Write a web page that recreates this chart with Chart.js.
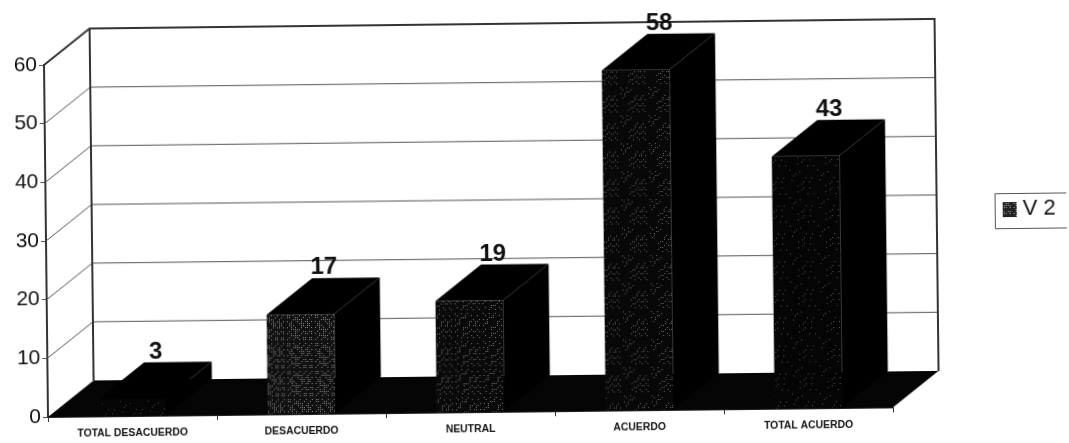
<!DOCTYPE html>
<html>
<head>
<meta charset="utf-8">
<title>V 2</title>
<script src="https://cdn.jsdelivr.net/npm/chart.js@4/dist/chart.umd.min.js"></script>
<style>
    html, body { margin: 0; background: #fff; overflow: hidden; }
    /* the original is a scan, slightly turned */
    #chart { display: block; transform-origin: 48px 417px; transform: rotate(-0.65deg); }
</style>
</head>
<body>
<canvas id="chart" width="1069" height="443"></canvas>
<script>
const categories = ['TOTAL DESACUERDO', 'DESACUERDO', 'NEUTRAL', 'ACUERDO', 'TOTAL ACUERDO'];
const values = [3, 17, 19, 58, 43];
const yTicks = [0, 10, 20, 30, 40, 50, 60];
const seriesName = 'V 2';

// Depth of the fake 3D box
const depthX = 46;
const depthY = 36;
const FONT = '"Liberation Sans", Arial, sans-serif';

// Dark dither like the photocopied bars, uneven on purpose
function stipple(base, dot, density) {
    const c = document.createElement('canvas');
    c.width = 28;
    c.height = 28;
    const g = c.getContext('2d');
    g.fillStyle = base;
    g.fillRect(0, 0, 28, 28);
    g.fillStyle = dot;
    for (let y = 0; y < 28; y += 2) {
        for (let x = 0; x < 28; x += 2) {
            if ((x * 3 + y * 5 + x * y) % 11 < density) g.fillRect(x, y, 1, 1);
        }
    }
    return g.createPattern(c, 'repeat');
}

const barFills = [
    stipple('#050505', '#444', 1),
    stipple('#111', '#8a8a8a', 5),
    stipple('#0a0a0a', '#777', 3),
    stipple('#080808', '#666', 2),
    stipple('#050505', '#555', 1)
];
const legendFill = stipple('#222', '#aaa', 6);

function poly(ctx, pts, fill) {
    ctx.beginPath();
    pts.forEach((p, i) => i ? ctx.lineTo(p[0], p[1]) : ctx.moveTo(p[0], p[1]));
    ctx.closePath();
    ctx.fillStyle = fill;
    ctx.fill();
}

const box3d = {
    id: 'box3d',
    beforeDatasetsDraw(chart) {
        const { ctx, chartArea: a, scales: { y } } = chart;
        ctx.save();

        // Gridlines on left and back walls
        ctx.strokeStyle = '#555';
        ctx.lineWidth = 1;
        yTicks.forEach(v => {
            if (v === 0 || v === 60) return;
            const py = y.getPixelForValue(v);
            ctx.beginPath();
            ctx.moveTo(a.left, py);
            ctx.lineTo(a.left + depthX, py - depthY);
            ctx.lineTo(a.right + depthX, py - depthY);
            ctx.stroke();
        });

        // Wall outline
        const top = y.getPixelForValue(60);
        const zero = y.getPixelForValue(0);
        ctx.strokeStyle = '#333';
        ctx.lineWidth = 2;
        ctx.beginPath();
        ctx.moveTo(a.left, top);
        ctx.lineTo(a.left + depthX, top - depthY);
        ctx.lineTo(a.right + depthX, top - depthY);
        ctx.lineTo(a.right + depthX, zero - depthY);
        ctx.moveTo(a.left + depthX, top - depthY);
        ctx.lineTo(a.left + depthX, zero - depthY);
        ctx.stroke();

        // Floor
        poly(ctx, [
            [a.left, zero], [a.right, zero],
            [a.right + depthX, zero - depthY], [a.left + depthX, zero - depthY]
        ], '#050505');
        ctx.restore();
    },
    afterDatasetsDraw(chart) {
        const { ctx } = chart;
        const bars = chart.getDatasetMeta(0).data;
        ctx.save();
        bars.forEach((bar, i) => {
            const l = bar.x - bar.width / 2;
            const r = bar.x + bar.width / 2;
            // top face
            poly(ctx, [[l, bar.y], [r, bar.y], [r + depthX, bar.y - depthY], [l + depthX, bar.y - depthY]], '#000');
            // right face
            poly(ctx, [[r, bar.y], [r + depthX, bar.y - depthY], [r + depthX, bar.base - depthY], [r, bar.base]], '#000');

            // value label over the back of the bar
            ctx.fillStyle = '#111';
            ctx.font = 'bold 24px ' + FONT;
            ctx.textAlign = 'center';
            ctx.textBaseline = 'middle';
            ctx.fillText(values[i], bar.x + 24, bar.y - depthY - 10.5);
        });

        // Legend
        ctx.strokeStyle = '#555';
        ctx.lineWidth = 1;
        ctx.beginPath();
        ctx.moveTo(1075, 204.5);
        ctx.lineTo(997.5, 204.5);
        ctx.lineTo(997.5, 239.5);
        ctx.lineTo(1075, 239.5);
        ctx.stroke();
        ctx.fillStyle = legendFill;
        ctx.fillRect(1005, 213, 14, 15);
        ctx.fillStyle = '#111';
        ctx.font = '22px ' + FONT;
        ctx.textAlign = 'left';
        ctx.textBaseline = 'middle';
        ctx.fillText(seriesName, 1025, 220);
        ctx.restore();
    }
};

new Chart(document.getElementById('chart'), {
    type: 'bar',
    data: {
        labels: categories,
        datasets: [{
            label: seriesName,
            data: values,
            backgroundColor: barFills,
            borderWidth: 0,
            categoryPercentage: 1,
            barPercentage: 0.4
        }]
    },
    options: {
        responsive: false,
        animation: false,
        events: [],
        layout: { padding: { top: 65, right: 176, left: 0, bottom: 0 } },
        plugins: { legend: { display: false }, tooltip: { enabled: false } },
        scales: {
            x: {
                afterFit: s => { s.height = 26; },
                border: { color: '#222', width: 1 },
                grid: { drawOnChartArea: false, tickLength: 5, tickColor: '#333' },
                ticks: {
                    color: '#111',
                    padding: 6,
                    maxRotation: 0,
                    autoSkip: false,
                    font: { family: FONT, size: 10.4, weight: 'bold' }
                }
            },
            y: {
                min: 0,
                max: 60,
                afterFit: s => { s.width = 48; },
                afterBuildTicks: s => { s.ticks = yTicks.map(v => ({ value: v })); },
                border: { color: '#333', width: 2 },
                grid: { drawOnChartArea: false, tickLength: 5, tickColor: '#555' },
                ticks: {
                    color: '#111',
                    padding: 2,
                    font: { family: FONT, size: 21 }
                }
            }
        }
    },
    plugins: [box3d]
});
</script>
</body>
</html>
